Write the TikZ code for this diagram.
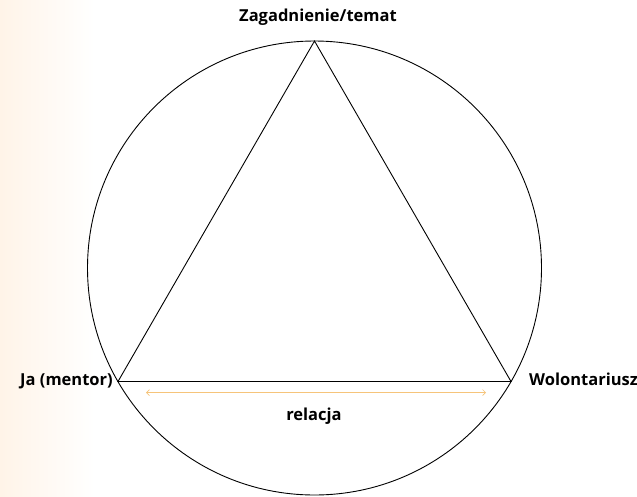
\documentclass[tikz,border=0pt]{standalone}
\usepackage{fontspec}
\setmainfont{Open Sans}
\usetikzlibrary{arrows.meta, positioning, calc}
\definecolor{relacjaorange}{HTML}{F6C47A}
\definecolor{bgorange}{HTML}{FFF4E8}

\begin{document}
\begin{tikzpicture}[x=1pt, y=-1pt,
  every node/.style={font=\bfseries\fontsize{16.5}{19}\selectfont, align=center, inner sep=0pt},
  ring/.style={draw=black, line width=0.9pt},
  edge/.style={draw=black, line width=0.9pt, line join=miter},
  relarr/.style={{Straight Barb[length=3pt]}-{Straight Barb[length=3pt]}, draw=relacjaorange, line width=0.7pt}
]

  % --- Background ---
  \useasboundingbox (0,0) rectangle (637,496);
  \fill[white] (0,0) rectangle (637,496);
  \shade[left color=bgorange, right color=white] (0,0) rectangle (95,496);

  % --- Circle and triangle ---
  \coordinate (c) at (314.5,268);
  \coordinate (top) at (314.5,41);
  \coordinate (left) at (118,381.5);
  \coordinate (right) at (511,381.5);

  \draw[ring] (c) circle[radius=227pt];
  \draw[edge] (top) -- (left) -- (right) -- cycle;

  % --- Labels ---
  \node[anchor=base] (temat) at (318,21) {Zagadnienie/temat};
  \node[anchor=base east] (mentor) at (113,385) {Ja (mentor)};
  \node[anchor=base west] (wolontariusz) at (529,385) {Wolontariusz};
  \node[anchor=base] (relacja) at (314,420.5) {relacja};

  % --- Relation arrow ---
  \coordinate (relA) at ($(left)+(28,11)$);
  \coordinate (relB) at ($(right)+(-25,11)$);
  \draw[relarr] (relA) -- (relB);

\end{tikzpicture}
\end{document}
